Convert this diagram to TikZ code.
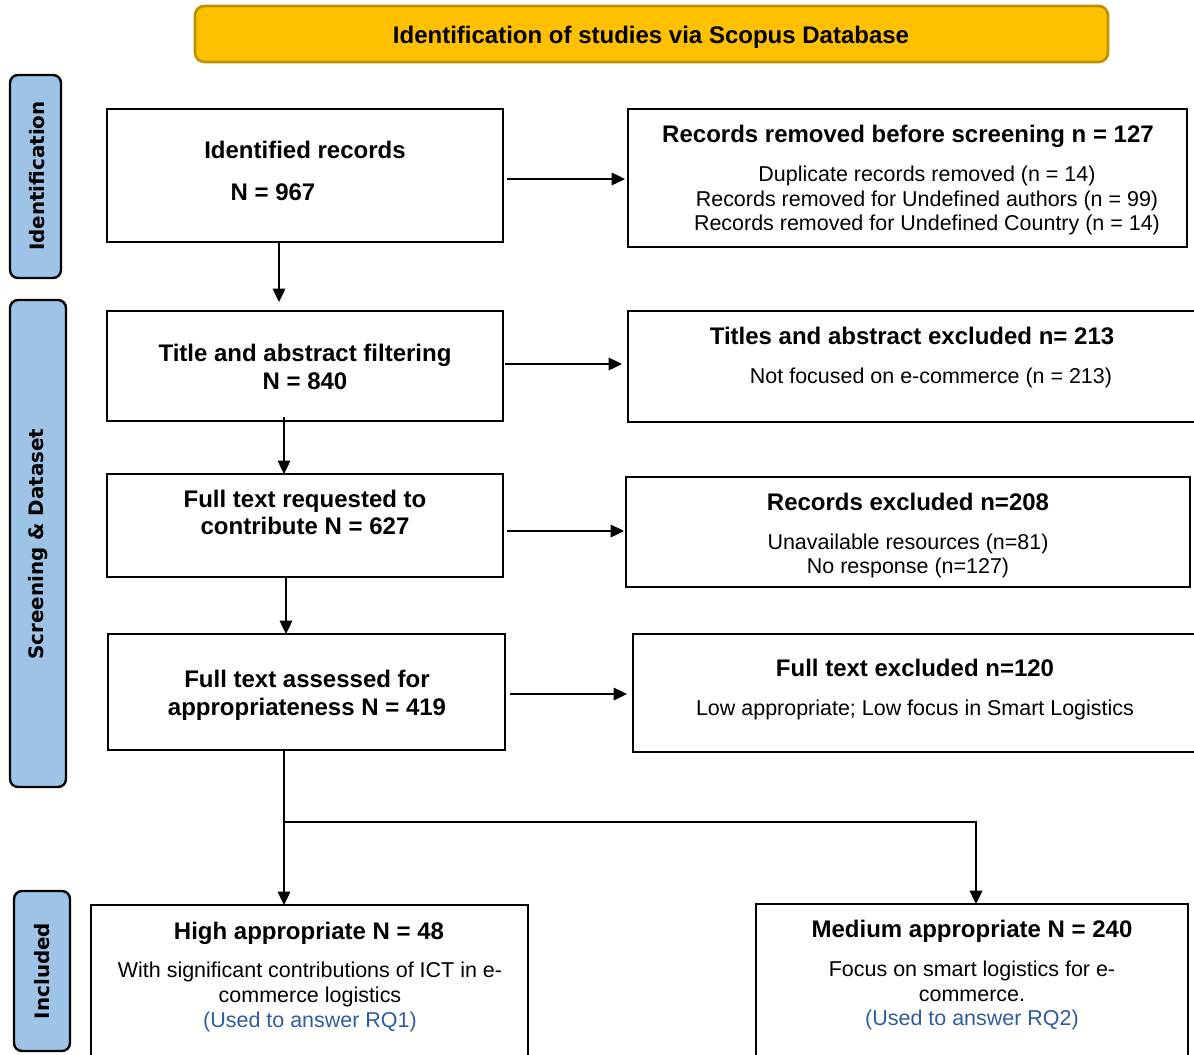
\documentclass[tikz,border=0pt]{standalone}
\usepackage{fontspec}
\setmainfont{Liberation Sans}
\newfontfamily\labfont{DejaVu Sans}
\usetikzlibrary{arrows.meta,calc}
\definecolor{banfill}{HTML}{FFC000}
\definecolor{bandraw}{HTML}{BF9000}
\definecolor{sidefill}{HTML}{9DC3E6}
\definecolor{rqblue}{HTML}{2F5C9E}
\begin{document}
\begin{tikzpicture}[x=0.75pt,y=-0.75pt,
  rect/.style n args={4}{minimum width={(#3-#1)*0.75pt}, minimum height={(#4-#2)*0.75pt}, at={({(#1+#3)/2},{(#2+#4)/2})}},
  box/.style={draw=black, line width=1.7pt, inner sep=0pt, outer sep=0pt},
  sidebox/.style={draw=black, line width=1.8pt, fill=sidefill, rounded corners=6pt, inner sep=0pt, outer sep=0pt},
  banner/.style={draw=bandraw, line width=2pt, fill=banfill, rounded corners=7pt, inner sep=0pt, outer sep=0pt},
  ttl/.style={font=\fontsize{18}{21}\selectfont\bfseries, anchor=base, inner sep=0pt},
  txt/.style={font=\fontsize{16.1}{19}\selectfont, anchor=base, inner sep=0pt},
  rq/.style={txt, text=rqblue},
  sidetxt/.style={font=\labfont\fontsize{14.9}{17}\selectfont\bfseries, rotate=90, inner sep=0pt},
  arr/.style={-{Triangle[length=10pt,width=9.5pt]}, line width=0.9pt},
  conn/.style={line width=0.9pt}]
\clip (0,0) rectangle (1194,1054);
\useasboundingbox (0,0) rectangle (1194,1054);

% banner
\node[banner, rect={195}{6}{1108}{62}] (ban) {};
\node[ttl] (bant) at (651,43.5) {Identification of studies via Scopus Database};

% side labels
\node[sidebox, rect={10}{75}{61}{278}] (s1) {};
\node[sidetxt] (s1t) at (37,176) {Identification};
\node[sidebox, rect={10}{300}{66}{787}] (s2) {};
\node[sidetxt] (s2t) at (38,544) {Screening \& Dataset};
\node[sidebox, rect={14}{891}{70}{1051}] (s3) {};
\node[sidetxt] (s3t) at (42,971) {Included};

% left boxes
\node[box, rect={107}{109}{503}{242}] (b1) {};
\node[ttl] (b1a) at (305,158.5) {Identified records};
\node[ttl] (b1b) at (273,200.5) {N = 967};

\node[box, rect={107}{311}{503}{421}] (b2) {};
\node[ttl] (b2a) at (305,361.5) {Title and abstract filtering};
\node[ttl] (b2b) at (305,389.5) {N = 840};

\node[box, rect={107}{474}{503}{577}] (b3) {};
\node[ttl] (b3a) at (305,507.5) {Full text requested to};
\node[ttl] (b3b) at (305,534.5) {contribute N = 627};

\node[box, rect={108}{634}{505}{750}] (b4) {};
\node[ttl] (b4a) at (307,687.5) {Full text assessed for};
\node[ttl] (b4b) at (307,715.5) {appropriateness N = 419};

% right boxes
\node[box, rect={628}{109}{1187}{247}] (e1) {};
\node[ttl] (e1a) at (908,142.5) {Records removed before screening n = 127};
\node[txt] (e1b) at (927,181.7) {Duplicate records removed (n = 14)};
\node[txt] (e1c) at (927,206.2) {Records removed for Undefined authors (n = 99)};
\node[txt] (e1d) at (927,230.7) {Records removed for Undefined Country (n = 14)};

\node[box, rect={628}{311}{1215}{422}] (e2) {};
\node[ttl] (e2a) at (912,344.5) {Titles and abstract excluded n= 213};
\node[txt] (e2b) at (931,383.7) {Not focused on e-commerce (n = 213)};

\node[box, rect={626}{477}{1190}{587}] (e3) {};
\node[ttl] (e3a) at (908,510.5) {Records excluded n=208};
\node[txt] (e3b) at (908,549.7) {Unavailable resources (n=81)};
\node[txt] (e3c) at (908,573.7) {No response (n=127)};

\node[box, rect={633}{634}{1215}{752}] (e4) {};
\node[ttl] (e4a) at (915,676.5) {Full text excluded n=120};
\node[txt] (e4b) at (915,715.7) {Low appropriate; Low focus in Smart Logistics};

% included boxes
\node[box, rect={91}{905}{528}{1075}] (h) {};
\node[ttl] (ha) at (309,939.5) {High appropriate N = 48};
\node[txt] (hb) at (310,977.7) {With significant contributions of ICT in e-};
\node[txt] (hc) at (310,1002.7) {commerce logistics};
\node[rq] (hd) at (310,1027.7) {(Used to answer RQ1)};

\node[box, rect={756}{904}{1188}{1075}] (m) {};
\node[ttl] (ma) at (972,937.5) {Medium appropriate N = 240};
\node[txt] (mb) at (972,976.7) {Focus on smart logistics for e-};
\node[txt] (mc) at (972,1001.7) {commerce.};
\node[rq] (md) at (972,1025.7) {(Used to answer RQ2)};

% horizontal connectors
\draw[arr] ($(b1.east)+(4,3.5)$) -- ($(e1.west)+(-3,1)$);
\draw[arr] ($(b2.east)+(2,-2)$) -- ($(e2.west)+(-6,-2.5)$);
\draw[arr] ($(b3.east)+(4,5.5)$) -- ($(e3.west)+(-2,-1)$);
\draw[arr] ($(b4.east)+(5,2)$) -- ($(e4.west)+(-6,1)$);

% vertical connectors
\draw[arr] ($(b1.south)+(-26,0)$) -- ($(b2.north)+(-26,-9)$);
\draw[arr] ($(b2.south)+(-21,-4)$) -- ($(b3.north)+(-21,0)$);
\draw[arr] ($(b3.south)+(-19,0)$) -- ($(b4.north)+(-20.5,0)$);
\coordinate (br) at ($(b4.south)+(-22.5,72)$);
\draw[arr] ($(b4.south)+(-22.5,0)$) -- ($(h.north)+(-25.5,0)$);
\draw[arr] (br) -| ($(m.north)+(4,0)$);
\end{tikzpicture}
\end{document}
